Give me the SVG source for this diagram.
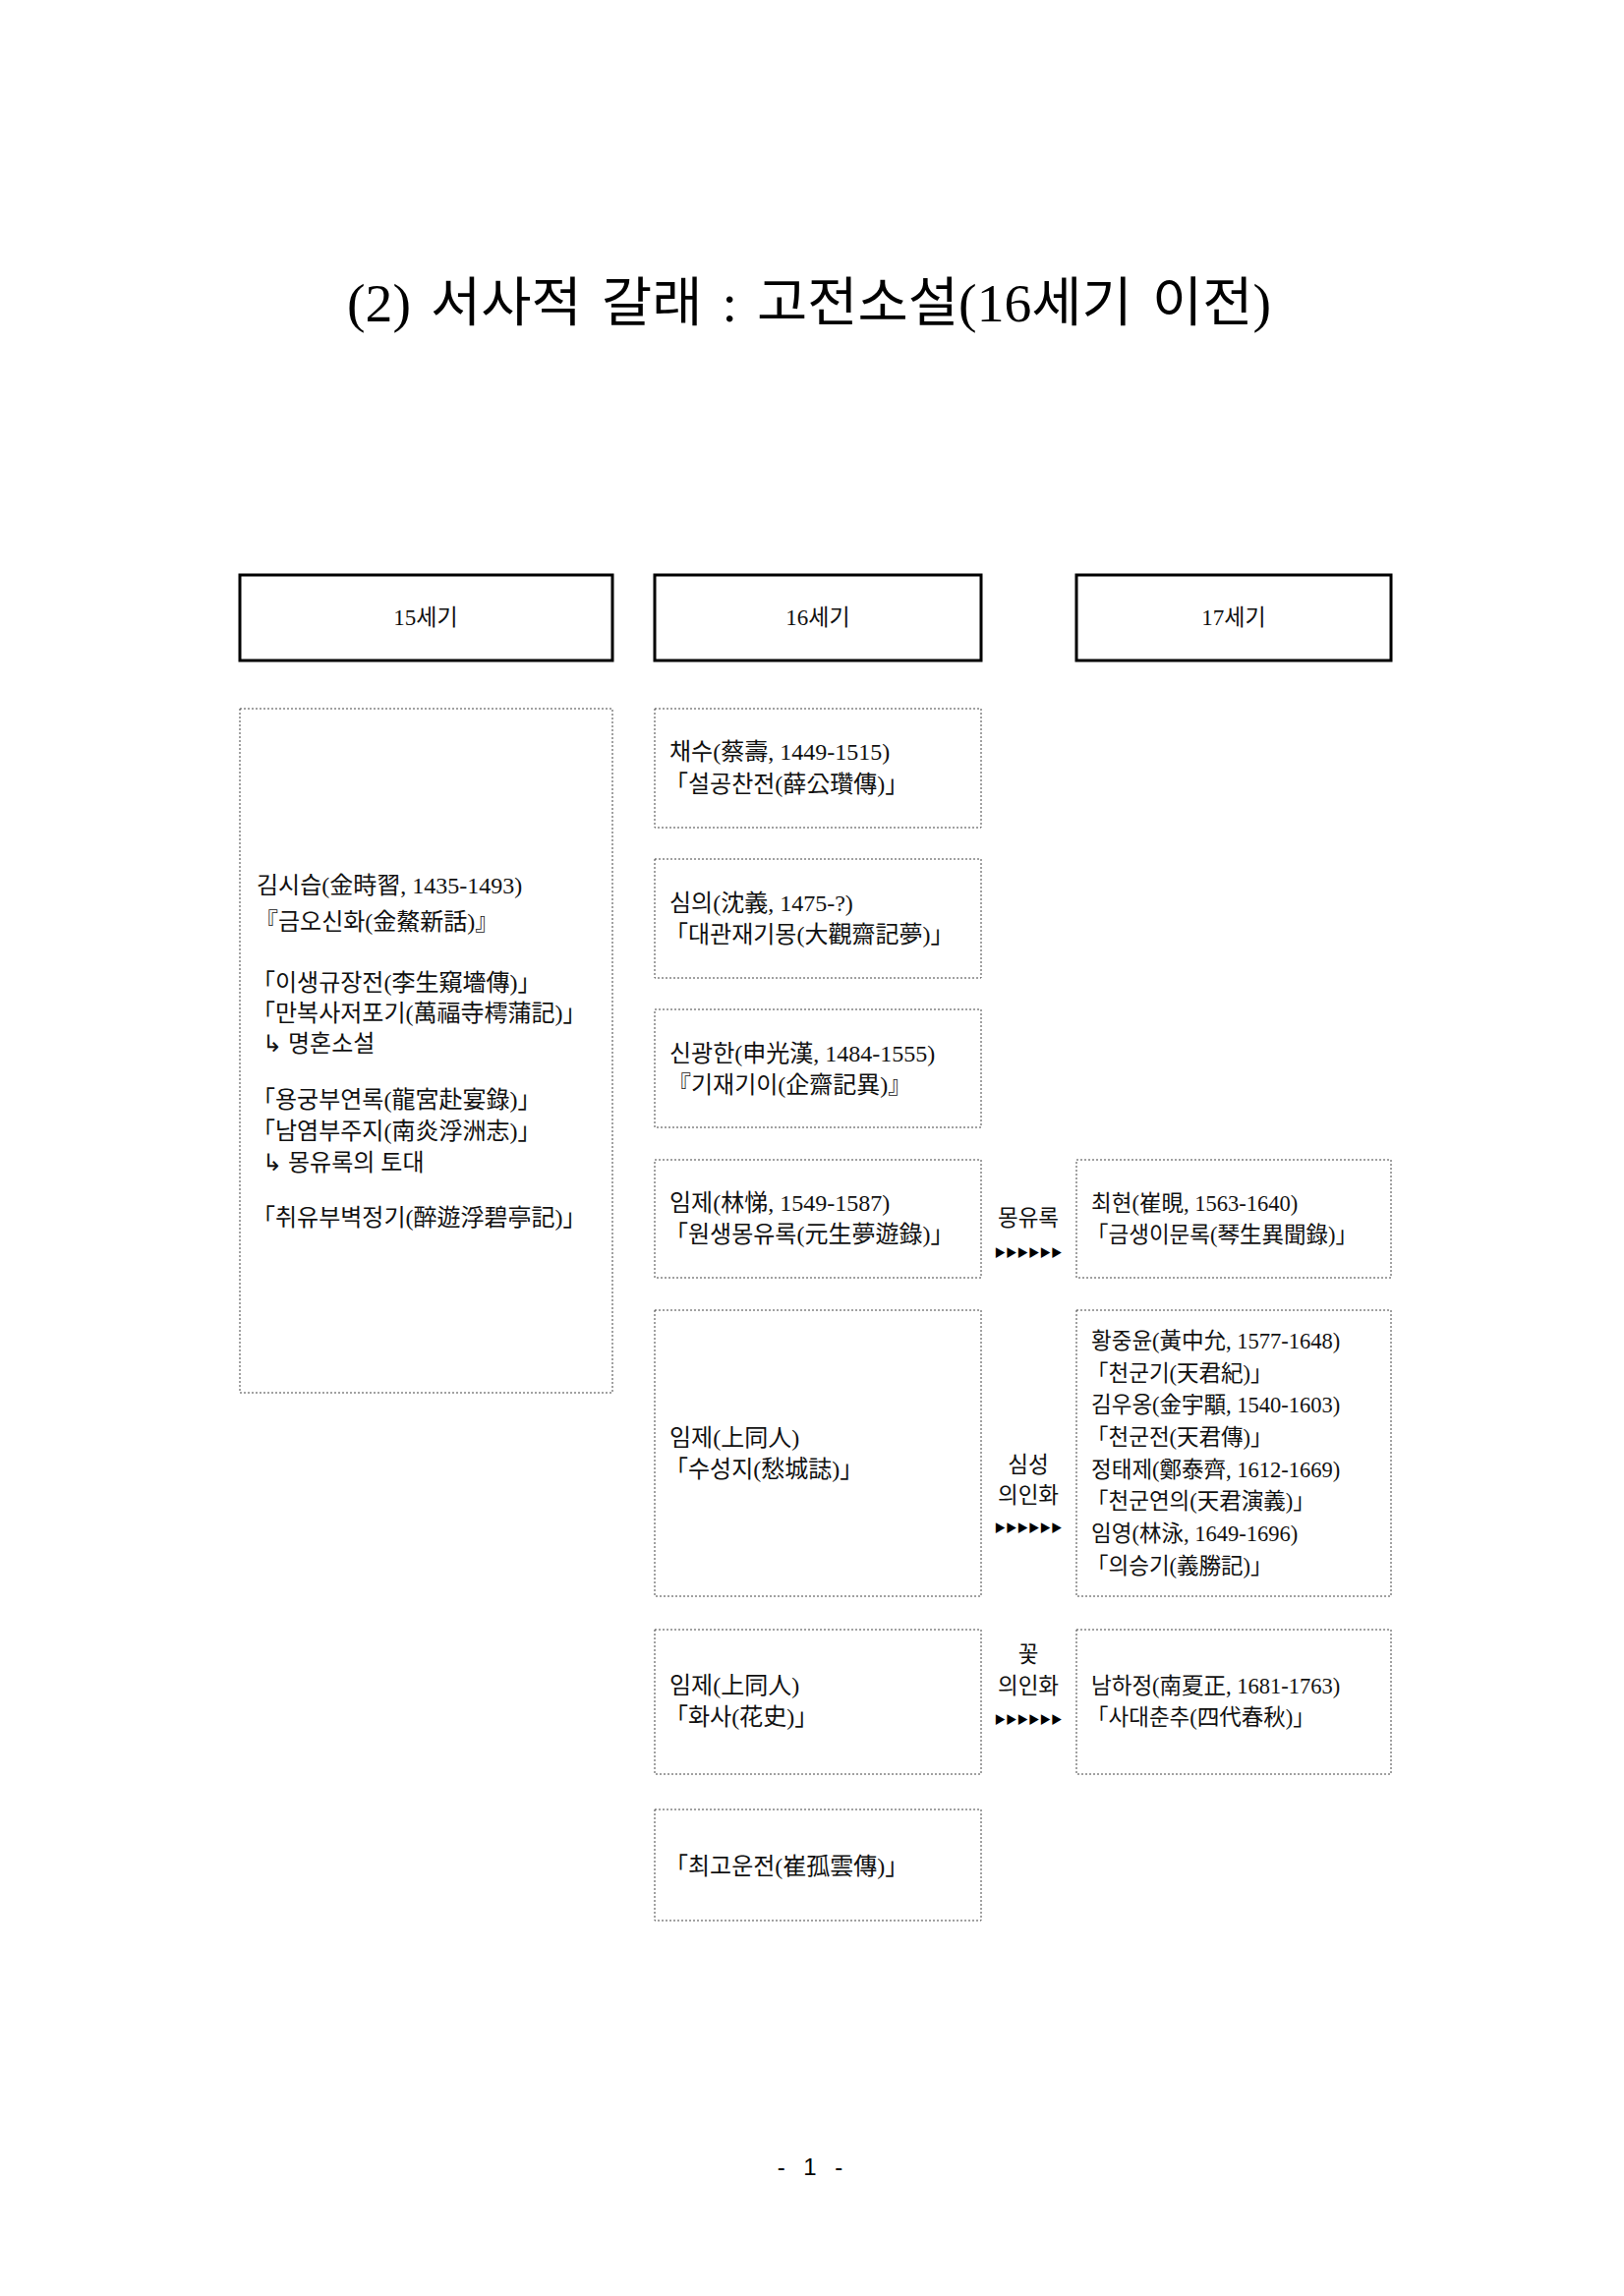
<svg xmlns="http://www.w3.org/2000/svg" width="1652" height="2336" viewBox="0 0 1652 2336">
<style>
.hdr{fill:#fff;stroke:#000;stroke-width:3}
.box{fill:#fff;stroke:#444;stroke-width:1;stroke-dasharray:2,2}
.t{font-family:"Liberation Serif","Noto Sans CJK KR",serif;font-size:24px;fill:#111}
.s{font-size:22.5px}
.h{font-family:"Liberation Serif","Noto Sans CJK KR",serif;font-size:23px;fill:#111;text-anchor:middle}
.c{text-anchor:middle}
.arr{font-family:"Noto Sans CJK KR","DejaVu Sans",sans-serif;font-size:11.5px;fill:#000;text-anchor:middle}
</style>
<rect width="1652" height="2336" fill="#fff"/>
<text x="353" y="327" font-family="'Liberation Serif','Noto Sans CJK KR',serif" font-size="54" fill="#000" textLength="940" lengthAdjust="spacingAndGlyphs" word-spacing="6">(2) 서사적 갈래 : 고전소설(16세기 이전)</text>

<g id="h15"><rect class="hdr" x="244" y="585" width="379" height="87"/><text class="h" x="433" y="636">15세기</text></g>
<g id="h16"><rect class="hdr" x="666" y="585" width="332" height="87"/><text class="h" x="832" y="636">16세기</text></g>
<g id="h17"><rect class="hdr" x="1095" y="585" width="320" height="87"/><text class="h" x="1255" y="636">17세기</text></g>

<g id="n15">
<rect class="box" x="244" y="721" width="379" height="696"/>
<text class="t" x="261" y="909">김시습(金時習, 1435-1493)</text>
<text class="t" x="259" y="946">『금오신화(金鰲新話)』</text>
<text class="t" x="256" y="1008">「이생규장전(李生窺墻傳)」</text>
<text class="t" x="256" y="1039">「만복사저포기(萬福寺樗蒲記)」</text>
<text class="t" x="267" y="1070">↳ 명혼소설</text>
<text class="t" x="256" y="1127">「용궁부연록(龍宮赴宴錄)」</text>
<text class="t" x="256" y="1159">「남염부주지(南炎浮洲志)」</text>
<text class="t" x="267" y="1191">↳ 몽유록의 토대</text>
<text class="t" x="256" y="1247">「취유부벽정기(醉遊浮碧亭記)」</text>
</g>

<g id="n16a"><rect class="box" x="666" y="721" width="332" height="121"/>
<text class="t" x="681" y="773">채수(蔡壽, 1449-1515)</text>
<text class="t" x="676" y="806">「설공찬전(薛公瓚傳)」</text></g>
<g id="n16b"><rect class="box" x="666" y="874" width="332" height="121"/>
<text class="t" x="681" y="927">심의(沈義, 1475-?)</text>
<text class="t" x="676" y="959">「대관재기몽(大觀齋記夢)」</text></g>
<g id="n16c"><rect class="box" x="666" y="1027" width="332" height="120"/>
<text class="t" x="681" y="1080">신광한(申光漢, 1484-1555)</text>
<text class="t" x="679" y="1112">『기재기이(企齋記異)』</text></g>
<g id="n16d"><rect class="box" x="666" y="1180" width="332" height="120"/>
<text class="t" x="681" y="1232">임제(林悌, 1549-1587)</text>
<text class="t" x="676" y="1264">「원생몽유록(元生夢遊錄)」</text></g>
<g id="n16e"><rect class="box" x="666" y="1333" width="332" height="291"/>
<text class="t" x="681" y="1471">임제(上同人)</text>
<text class="t" x="676" y="1503">「수성지(愁城誌)」</text></g>
<g id="n16f"><rect class="box" x="666" y="1658" width="332" height="147"/>
<text class="t" x="681" y="1723">임제(上同人)</text>
<text class="t" x="676" y="1755">「화사(花史)」</text></g>
<g id="n16g"><rect class="box" x="666" y="1841" width="332" height="113"/>
<text class="t" x="676" y="1907">「최고운전(崔孤雲傳)」</text></g>

<g id="n17a"><rect class="box" x="1095" y="1180" width="320" height="120"/>
<text class="t s" x="1110" y="1232">최현(崔晛, 1563-1640)</text>
<text class="t s" x="1105" y="1264">「금생이문록(琴生異聞錄)」</text></g>
<g id="n17b"><rect class="box" x="1095" y="1333" width="320" height="291"/>
<text class="t s" x="1110" y="1372">황중윤(黃中允, 1577-1648)</text>
<text class="t s" x="1105" y="1405">「천군기(天君紀)」</text>
<text class="t s" x="1110" y="1437">김우옹(金宇顒, 1540-1603)</text>
<text class="t s" x="1105" y="1470">「천군전(天君傳)」</text>
<text class="t s" x="1110" y="1503">정태제(鄭泰齊, 1612-1669)</text>
<text class="t s" x="1105" y="1535">「천군연의(天君演義)」</text>
<text class="t s" x="1110" y="1568">임영(林泳, 1649-1696)</text>
<text class="t s" x="1105" y="1601">「의승기(義勝記)」</text></g>
<g id="n17c"><rect class="box" x="1095" y="1658" width="320" height="147"/>
<text class="t s" x="1110" y="1723">남하정(南夏正, 1681-1763)</text>
<text class="t s" x="1105" y="1755">「사대춘추(四代春秋)」</text></g>

<g id="connectors">
<text class="t s c" x="1046" y="1247">몽유록</text>
<text class="arr" x="1046" y="1279">▶▶▶▶▶▶</text>
<text class="t s c" x="1046" y="1498">심성</text>
<text class="t s c" x="1046" y="1529">의인화</text>
<text class="arr" x="1046" y="1559">▶▶▶▶▶▶</text>
<text class="t s c" x="1046" y="1691">꽃</text>
<text class="t s c" x="1046" y="1723">의인화</text>
<text class="arr" x="1046" y="1754">▶▶▶▶▶▶</text>
</g>

<text x="824" y="2213" font-family="'Liberation Sans',sans-serif" font-size="24" fill="#000" text-anchor="middle" word-spacing="12">- 1 -</text>
</svg>
